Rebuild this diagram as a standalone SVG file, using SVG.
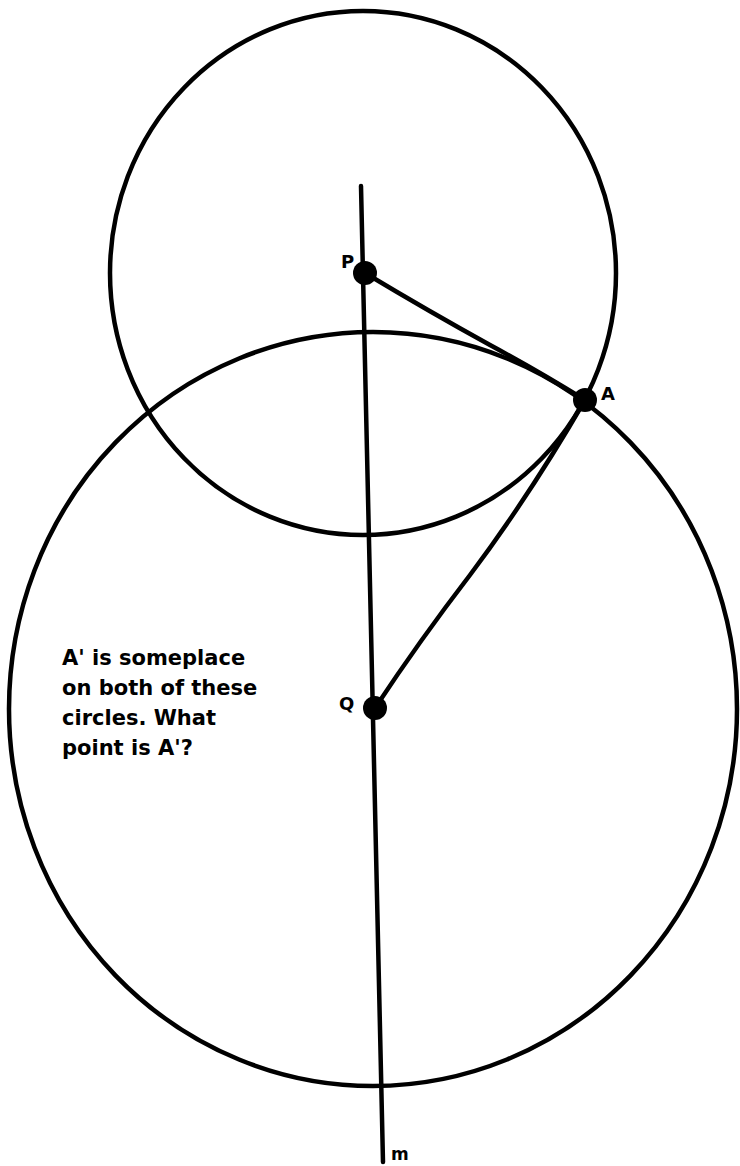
<svg xmlns="http://www.w3.org/2000/svg" width="740" height="1166" viewBox="0 0 740 1166">
<style>
.c{fill:none;stroke:#000;stroke-width:4.5}
.l{fill:none;stroke:#000;stroke-width:4.5;stroke-linecap:round}
.d{fill:#000}
.t{font-family:"DejaVu Sans","Liberation Sans",sans-serif;font-weight:bold;fill:#000}
</style>
<rect width="740" height="1166" fill="#fff"/>
<g id="circles">
<ellipse id="circleP" class="c" cx="363" cy="273" rx="253" ry="262"/>
<ellipse id="circleQ" class="c" cx="373" cy="709" rx="364" ry="377"/>
</g>
<g id="connectors">
<path id="line-m" class="l" d="M361,186 L383,1162"/>
<path id="PA" class="l" d="M365,273 Q430,312 490,345 Q540,372 585,400"/>
<path id="QA" class="l" d="M375,708 Q420,640 470,575 Q530,495 585,400"/>
</g>
<g id="node-P"><circle class="d" cx="365" cy="273" r="12"/><text class="t" x="341" y="268" font-size="18">P</text></g>
<g id="node-A"><circle class="d" cx="585" cy="400" r="12"/><text class="t" x="601" y="400" font-size="18">A</text></g>
<g id="node-Q"><circle class="d" cx="375" cy="708" r="12"/><text class="t" x="339" y="710" font-size="18">Q</text></g>
<g id="label-m"><text class="t" x="391" y="1160" font-size="17">m</text></g>
<g id="note" class="t" font-size="21">
<text x="62" y="665">A' is someplace</text>
<text x="62" y="695">on both of these</text>
<text x="62" y="725">circles. What</text>
<text x="62" y="755">point is A'?</text>
</g>
</svg>
